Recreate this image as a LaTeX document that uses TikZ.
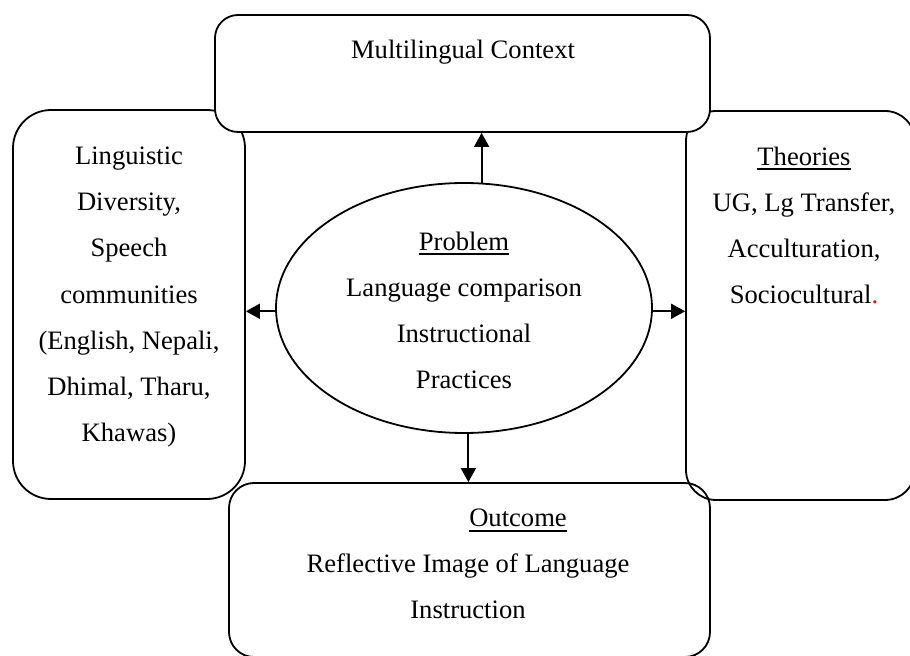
\documentclass[tikz,border=0pt]{standalone}
\usepackage{fontspec}
\setmainfont{Liberation Serif}
\usetikzlibrary{shapes.geometric,arrows.meta}

\definecolor{lgDotColor}{RGB}{255,0,0}
\newcommand{\hdline}[1]{\setbox0\hbox{#1}\rlap{\rule[-2.4pt]{\wd0}{0.85pt}}\box0}

\begin{document}
\begin{tikzpicture}[x=0.5pt,y=-0.5pt]
            \tikzset{box/.style={draw, line width=0.9pt, inner sep=0pt},
                     txt/.style={align=center, anchor=base, inner sep=0pt, font=\fontsize{13.3}{23.15}\selectfont},
                     arr/.style={-{Triangle[length=7pt,width=7.5pt]}, line width=0.9pt}}

            \useasboundingbox (0,0) rectangle (910,656);
            \clip (0,0) rectangle (910,656);

            \node[box, rounded corners=19pt, minimum width=116pt, minimum height=194.5pt] (ling) at (129,304.5) {};
            \node[box, rounded corners=15pt, minimum width=114.5pt, minimum height=194.5pt] (theo) at (800.5,305.5) {};
            \node[box, fill=white, rounded corners=11.5pt, minimum width=247.5pt, minimum height=58.5pt] (ctx) at (462.5,73.5) {};
            \node[box, rounded corners=12.5pt, minimum width=240.5pt, minimum height=87pt] (out) at (469.5,570) {};
            \node[box, ellipse, minimum width=188pt, minimum height=125pt] (prob) at (464,308) {};

            \node[txt] (ctxtext) at (463,59) {Multilingual Context};
            \node[txt] (lingtext) at (129,442) {Linguistic\\Diversity,\\Speech\\communities\\(English, Nepali,\\Dhimal, Tharu,\\Khawas)};
            \node[txt] (theotext) at (804,304) {\hdline{Theories}\\UG, Lg Transfer,\\Acculturation,\\Sociocultural\textcolor{lgDotColor}{.}};
            \node[txt] (probtext) at (464,389) {\hdline{Problem}\\Language comparison\\Instructional\\Practices};
            \node[txt] (outhead) at (518,527) {\hdline{Outcome}};
            \node[txt] (outtext) at (468,619) {Reflective Image of Language\\Instruction};

            \draw[arr] (prob.82) -- (prob.82 |- ctx.south);
            \draw[arr] (prob.181) -- (prob.181 -| ling.east);
            \draw[arr] (prob.-1) -- (prob.-1 -| theo.west);
            \draw[arr] (prob.-88) -- (prob.-88 |- out.north);
        \end{tikzpicture}
\end{document}
